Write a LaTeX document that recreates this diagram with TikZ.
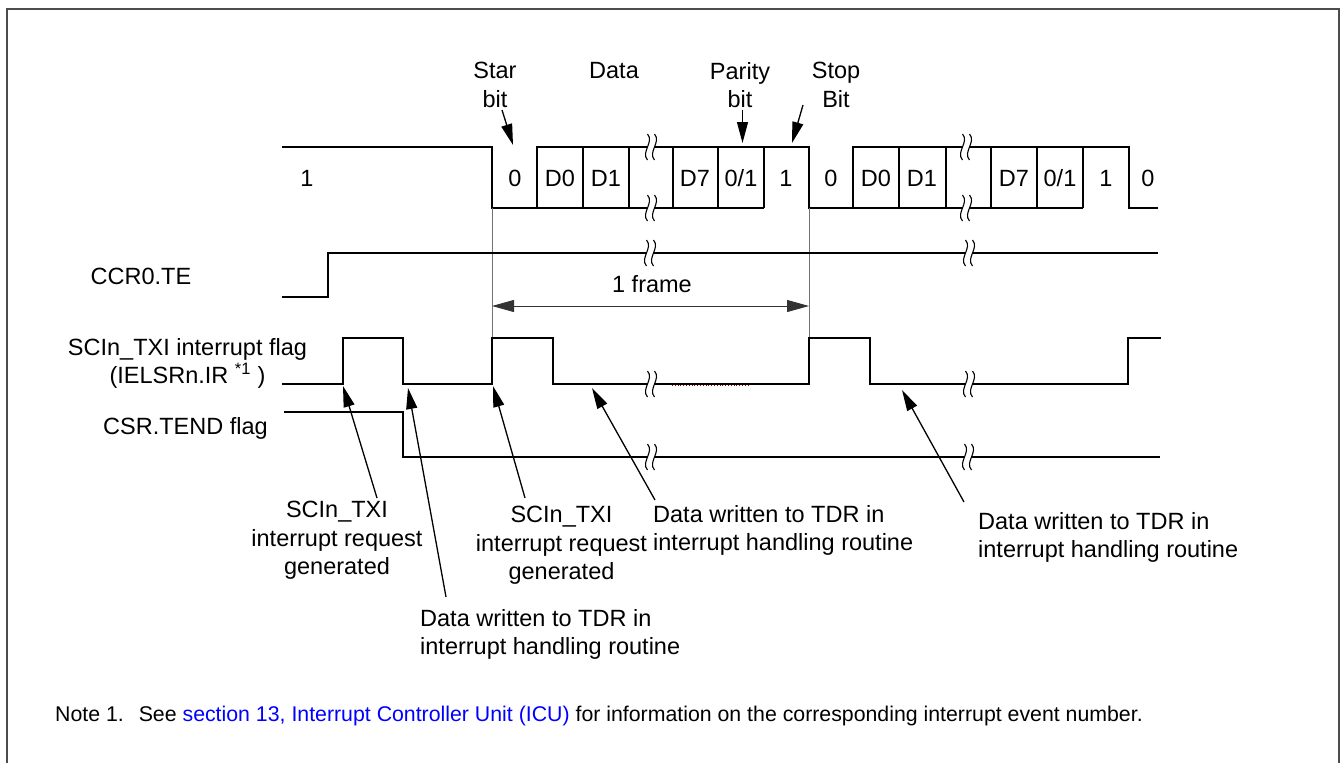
\documentclass[tikz,border=0pt]{standalone}
\usepackage{fontspec}
\setmainfont{Liberation Sans}
\usetikzlibrary{arrows.meta}
\tikzset{
  brk/.pic={
    \fill[white] (-3.8,-2.2) rectangle (3.8,2.2);
    \draw[line width=1.1pt] (-3.5,-13) .. controls (3.5,-5) and (-10.5,5) .. (-3.5,13);
    \draw[line width=1.1pt] (3.5,-13) .. controls (10.5,-5) and (-3.5,5) .. (3.5,13);
  }
}
\begin{document}
\begin{tikzpicture}[x=1pt,y=-1pt,
  sig/.style={line width=1.6pt},
  refline/.style={line width=0.9pt, draw=black!55},
  lbl/.style={inner sep=0pt, font=\fontsize{23.5}{28.5}\selectfont},
  ann/.style={line width=1.3pt, -{Triangle[length=21pt,width=11pt]}},
  dimarrow/.style={line width=0.9pt, draw=black!80, {Triangle[length=22pt,width=12pt]}-{Triangle[length=22pt,width=12pt]}},
  framebox/.style={line width=1.7pt, draw=black!70}
]
\useasboundingbox (0,0) rectangle (1341,763);
% outer frame
\draw[framebox] (7,763) -- (7,9) -- (1339,9) -- (1339,763);

% ---- transmit data waveform
\draw[sig] (282,147) -- (492,147) -- (492,208) -- (764,208);
\draw[sig] (537,208) -- (537,147) -- (809,147) -- (809,208) -- (1083,208);
\foreach \x in {583,629,673,718,764} \draw[sig] (\x,147) -- (\x,208);
\draw[sig] (853,208) -- (853,147) -- (1129,147) -- (1129,208) -- (1158,208);
\foreach \x in {899,946,991,1037,1083} \draw[sig] (\x,147) -- (\x,208);
\pic at (651,147) {brk};
\pic at (651,208) {brk};
\pic at (966,147) {brk};
\pic at (966,208) {brk};

% bit labels
\node[lbl, anchor=base] (b1) at (307,186) {1};
\node[lbl, anchor=base] (s0) at (515,186) {0};
\node[lbl, anchor=base] (d0) at (560,186) {D0};
\node[lbl, anchor=base] (d1) at (606,186) {D1};
\node[lbl, anchor=base] (d7) at (695,186) {D7};
\node[lbl, anchor=base] (p0) at (741,186) {0/1};
\node[lbl, anchor=base] (st) at (786,186) {1};
\node[lbl, anchor=base] (s0b) at (831,186) {0};
\node[lbl, anchor=base] (d0b) at (876,186) {D0};
\node[lbl, anchor=base] (d1b) at (922,186) {D1};
\node[lbl, anchor=base] (d7b) at (1014,186) {D7};
\node[lbl, anchor=base] (p0b) at (1060,186) {0/1};
\node[lbl, anchor=base] (stb) at (1106,186) {1};
\node[lbl, anchor=base] (s0c) at (1148,186) {0};

% top labels and arrows
\node[lbl, anchor=north, align=center] (star) at (495,62) {Star\\bit};
\node[lbl, anchor=north] (data) at (614,62) {Data};
\node[lbl, anchor=north, align=center] (parity) at (740,62) {Parity\\bit};
\node[lbl, anchor=north, align=center] (stop) at (836,62) {Stop\\Bit};
\coordinate (starT) at (502,110);  \coordinate (starH) at (513,145);
\coordinate (parT) at (742.5,110); \coordinate (parH) at (742.5,143);
\coordinate (stopT) at (803,105);  \coordinate (stopH) at (792,143);
\draw[ann] (starT) -- (starH);
\draw[ann] (parT) -- (parH);
\draw[ann] (stopT) -- (stopH);

% reference lines and frame arrow
\draw[refline] (492,208) -- (492,338);
\draw[refline] (809,208) -- (809,338);
\coordinate (frA) at (492,306);
\coordinate (frB) at (809,306);
\draw[dimarrow] (frA) -- (frB);
\node[lbl, anchor=base] (frame) at (652,292) {1 frame};

% CCR0.TE
\node[lbl, anchor=base] (te) at (141,284) {CCR0.TE};
\draw[sig] (282,297) -- (328,297) -- (328,253) -- (1158,253);
\pic at (650,253) {brk};
\pic at (969,253) {brk};

% interrupt flag
\node[lbl, anchor=north, align=center] (txi) at (187.5,338) {SCIn\_TXI interrupt flag\\(IELSRn.IR \textsuperscript{*1} )};
\draw[sig] (282,384) -- (343,384) -- (343,338) -- (403,338) -- (403,384) -- (492,384) -- (492,338) -- (553,338) -- (553,384) -- (809,384) -- (809,338) -- (870,338) -- (870,384) -- (1128,384) -- (1128,338) -- (1161,338);
\draw[red!60!black, dotted, line width=0.8pt] (672,385.5) -- (748,385.5);
\pic at (651,384) {brk};
\pic at (969,384) {brk};

% TEND flag
\node[lbl, anchor=north] (tend) at (185.5,417) {CSR.TEND flag};
\draw[sig] (284,412) -- (403,412) -- (403,457) -- (1160,457);
\pic at (651,457) {brk};
\pic at (968,457) {brk};

% annotations
\node[lbl, anchor=north, align=center] (req1) at (337,501) {SCIn\_TXI\\interrupt request\\generated};
\node[lbl, anchor=north, align=center] (req2) at (561.5,506) {SCIn\_TXI\\interrupt request\\generated};
\node[lbl, anchor=north west, align=left] (wr2) at (653,505) {Data written to TDR in\\interrupt handling routine};
\node[lbl, anchor=north west, align=left] (wr3) at (978,512) {Data written to TDR in\\interrupt handling routine};
\node[lbl, anchor=north west, align=left] (wr1) at (420,609) {Data written to TDR in\\interrupt handling routine};

\coordinate (r1T) at (377,498); \coordinate (r1H) at (343,386);
\coordinate (w1T) at (446,597); \coordinate (w1H) at (408,388);
\coordinate (r2T) at (525,498); \coordinate (r2H) at (493,386);
\coordinate (w2T) at (655,500); \coordinate (w2H) at (592,388);
\coordinate (w3T) at (964,502); \coordinate (w3H) at (902,390);
\draw[ann] (r1T) -- (r1H);
\draw[ann] (w1T) -- (w1H);
\draw[ann] (r2T) -- (r2H);
\draw[ann] (w2T) -- (w2H);
\draw[ann] (w3T) -- (w3H);

% note
\node[anchor=base west, inner sep=0pt, font=\fontsize{21.3}{25}\selectfont] (note) at (55,721) {Note 1.\hspace{0.7em}See \textcolor{blue}{section 13, Interrupt Controller Unit (ICU)} for information on the corresponding interrupt event number.};
\end{tikzpicture}
\end{document}
